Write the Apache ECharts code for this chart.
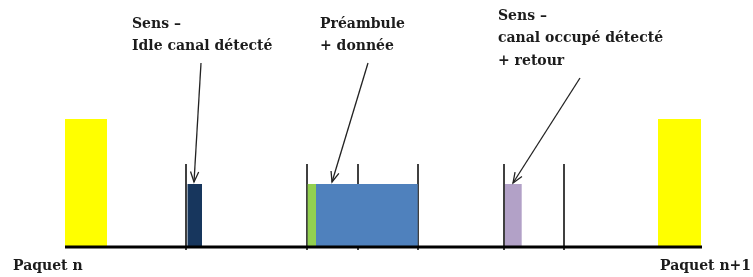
<!DOCTYPE html>
<html>
<head>
<meta charset="utf-8">
<script src="https://cdn.jsdelivr.net/npm/echarts@6/dist/echarts.min.js"></script>
<style>
  html, body { margin: 0; padding: 0; background: #fff; }
  #chart { width: 753px; height: 277px; }
</style>
</head>
<body>
<div id="chart"></div>
<script>
// time slots along the channel (x in px-like units, height above the baseline)
var blockNames = ['Paquet n', 'Sens idle', 'Préambule', 'Donnée', 'Sens occupé', 'Paquet n+1'];
var blockStart = [65, 187.5, 307.7, 316, 505, 658];
var blockEnd = [107, 202, 316, 417.7, 521.7, 701];
var blockHeight = [128, 63, 63, 63, 63, 128];
var blockColors = ['#ffff00', '#17365d', '#92d050', '#4f81bd', '#b2a1c7', '#ffff00'];

// slot boundaries
var slotTicks = [186, 307, 358, 418, 504, 564];
var tickHeight = 83;

// baseline
var lineFrom = 65;
var lineTo = 702;

// arrows: from label to the block they point at
var arrowFromX = [201, 368, 580];
var arrowFromY = [184, 184, 169];
var arrowToX = [194, 332, 513];
var arrowToY = [65, 65, 64];

var font = '"DejaVu Serif", "Liberation Serif", serif';
var textColor = '#1c1c1c';

var chart = echarts.init(document.getElementById('chart'));

function label(text, x, y) {
  return {
    type: 'text', left: x, top: y,
    style: { text: text, font: 'bold 14px ' + font, fill: textColor }
  };
}

chart.setOption({
  animation: false,
  grid: { left: 0, right: 0, top: 0, bottom: 30 },
  xAxis: { type: 'value', min: 0, max: 753, show: false },
  yAxis: { type: 'value', min: 0, max: 247, show: false },
  graphic: [
    label('Sens –', 132, 17),
    label('Idle canal détecté', 132, 39),
    label('Préambule', 320, 17),
    label('+ donnée', 320, 39),
    label('Sens –', 498, 9),
    label('canal occupé détecté', 498, 31),
    label('+ retour', 498, 54),
    label('Paquet n', 13, 259),
    label('Paquet n+1', 660, 259)
  ],
  series: [{
    type: 'custom',
    name: 'ticks',
    z: 1,
    data: slotTicks.map(function (x) { return [x, tickHeight]; }),
    renderItem: function (params, api) {
      var top = api.coord([api.value(0), api.value(1)]);
      var bot = api.coord([api.value(0), -3]);
      return {
        type: 'line',
        shape: { x1: top[0], y1: top[1], x2: bot[0], y2: bot[1] },
        style: { stroke: '#000', lineWidth: 1.5 }
      };
    }
  }, {
    type: 'custom',
    name: 'blocks',
    z: 2,
    data: blockNames.map(function (n, i) {
      return [blockStart[i], blockEnd[i], blockHeight[i], i];
    }),
    renderItem: function (params, api) {
      var p0 = api.coord([api.value(0), api.value(2)]);
      var p1 = api.coord([api.value(1), 0]);
      return {
        type: 'rect',
        shape: { x: p0[0], y: p0[1], width: p1[0] - p0[0], height: p1[1] - p0[1] },
        style: { fill: blockColors[api.value(3)] }
      };
    }
  }, {
    type: 'custom',
    name: 'baseline',
    z: 3,
    data: [[lineFrom, lineTo]],
    renderItem: function (params, api) {
      var a = api.coord([api.value(0), 0]);
      var b = api.coord([api.value(1), 0]);
      return {
        type: 'line',
        shape: { x1: a[0], y1: a[1], x2: b[0], y2: b[1] },
        style: { stroke: '#000', lineWidth: 3 }
      };
    }
  }, {
    type: 'custom',
    name: 'arrows',
    z: 4,
    data: arrowFromX.map(function (x, i) {
      return [x, arrowFromY[i], arrowToX[i], arrowToY[i]];
    }),
    renderItem: function (params, api) {
      var a = api.coord([api.value(0), api.value(1)]);
      var b = api.coord([api.value(2), api.value(3)]);
      var ang = Math.atan2(b[1] - a[1], b[0] - a[0]);
      var len = 11, spread = 0.38;
      var h1 = [b[0] - len * Math.cos(ang - spread), b[1] - len * Math.sin(ang - spread)];
      var h2 = [b[0] - len * Math.cos(ang + spread), b[1] - len * Math.sin(ang + spread)];
      var st = { stroke: '#222', lineWidth: 1.3, fill: null };
      return {
        type: 'group',
        children: [
          { type: 'line', shape: { x1: a[0], y1: a[1], x2: b[0], y2: b[1] }, style: st },
          { type: 'polyline', shape: { points: [h1, b, h2] }, style: st }
        ]
      };
    }
  }]
});
</script>
</body>
</html>
